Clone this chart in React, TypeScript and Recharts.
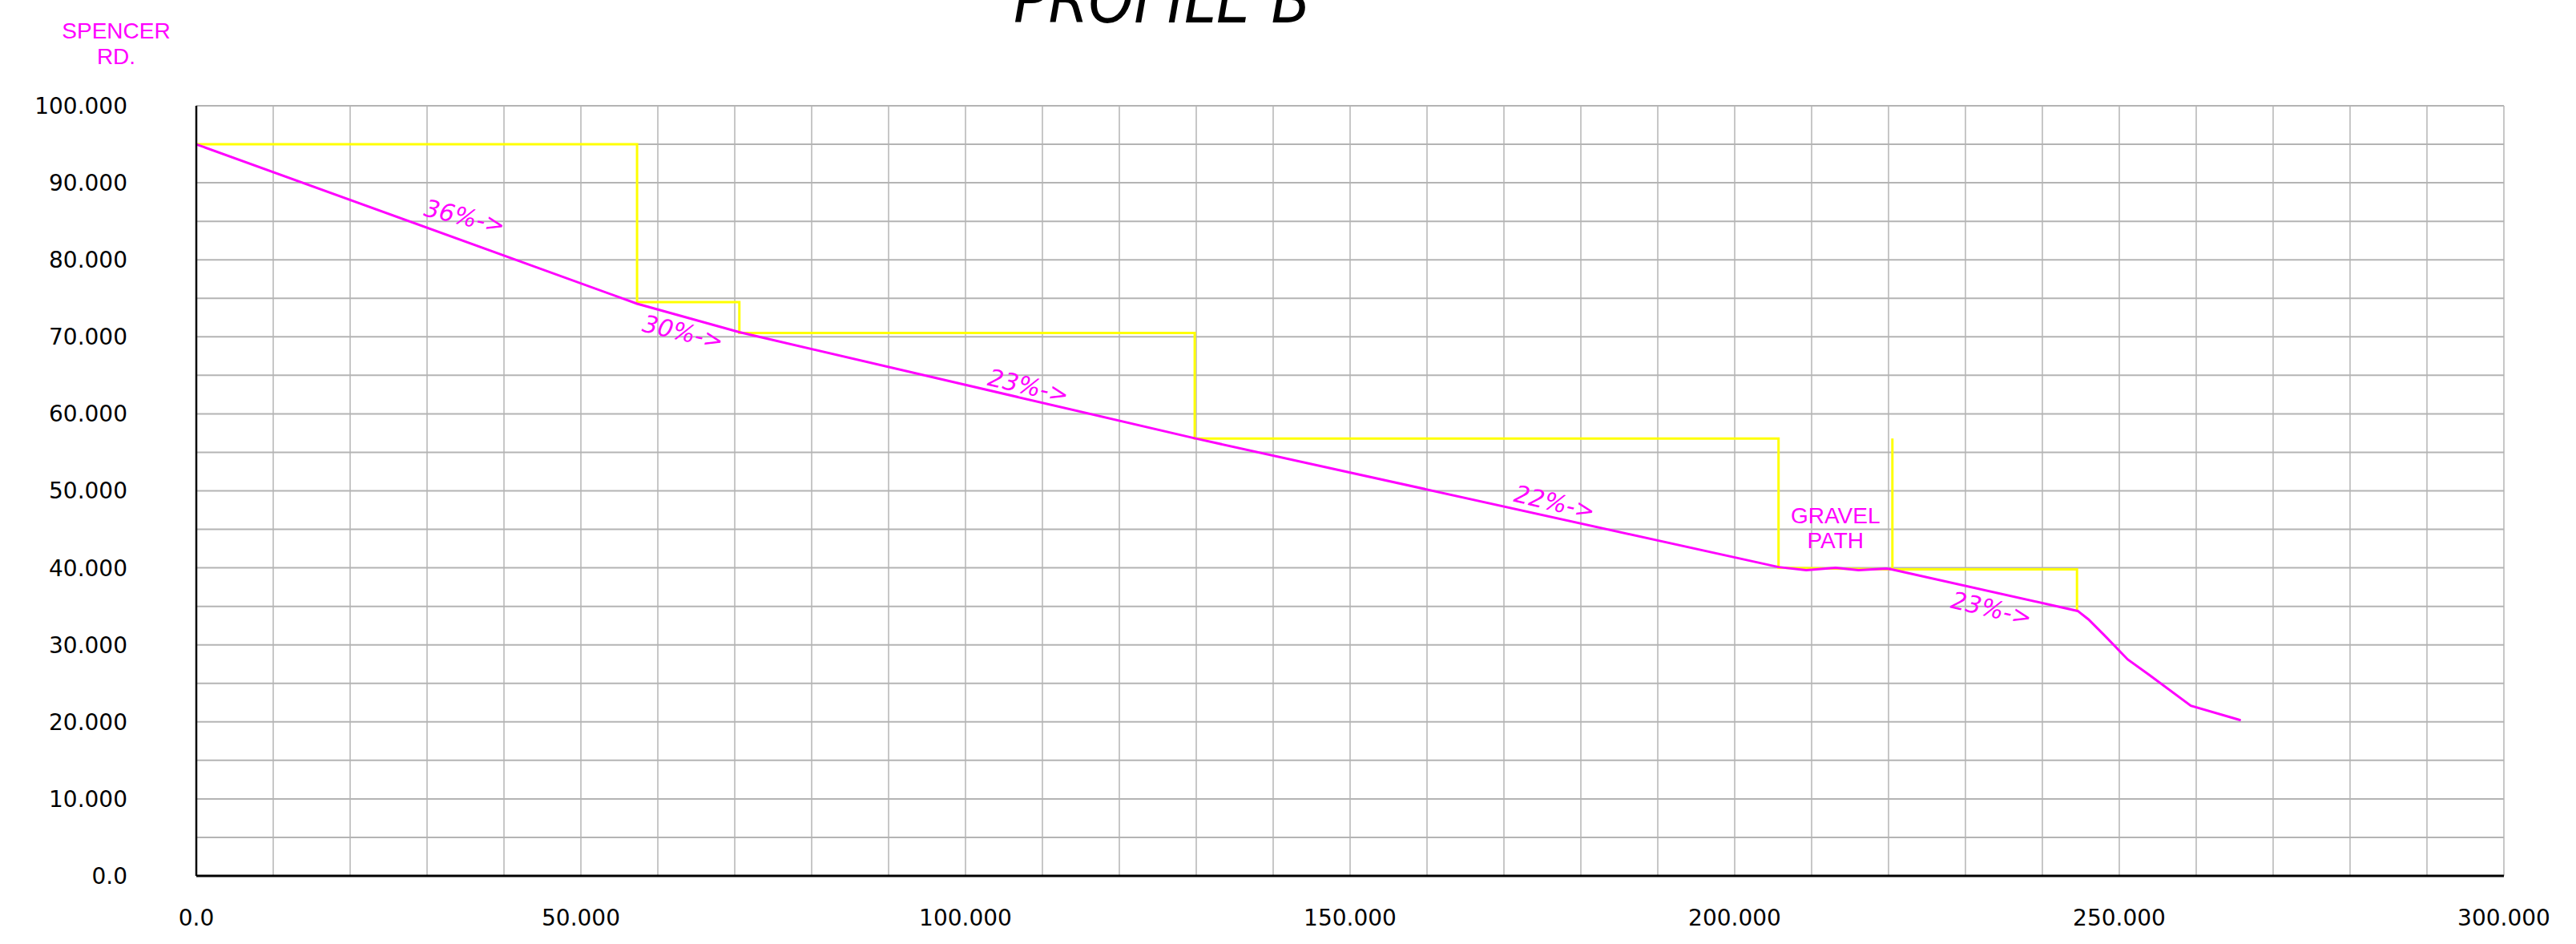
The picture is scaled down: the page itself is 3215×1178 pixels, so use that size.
import { CartesianGrid, Line, LineChart, ReferenceDot, XAxis, YAxis } from "recharts";

// existing ground profile (magenta)
const groundX = [0, 57.3, 70.6, 129.9, 205.7, 209.3, 213.1, 216.1, 219.7, 220.4, 244.6, 246.0, 248.1, 251.1, 253.9, 259.3, 265.8];
const groundY = [95.0, 74.3, 70.6, 56.8, 40.1, 39.7, 40.0, 39.7, 39.9, 39.8, 34.4, 33.3, 31.2, 28.1, 26.1, 22.1, 20.2];

// proposed steps (yellow)
const stepX = [0, 57.3, 57.3, 70.6, 70.6, 129.8, 129.8, 205.7, 205.7, 220.4, 244.5, 244.5];
const stepY = [95.0, 95.0, 74.5, 74.5, 70.5, 70.5, 56.8, 56.8, 40.0, 39.8, 39.8, 34.4];

// gravel path edge (yellow)
const edgeX = [220.5, 220.5];
const edgeY = [56.8, 39.8];

// slope notes
const slopeText = ["36%->", "30%->", "23%->", "22%->", "23%->"];
const slopeX = [34.9, 63.3, 108.2, 176.6, 233.4];
const slopeY = [85.6, 70.6, 63.6, 48.5, 34.7];

const noteText = ["GRAVEL", "PATH"];
const noteX = [213.1, 213.1];
const noteY = [46.8, 43.5];

const xTicks = [0, 50, 100, 150, 200, 250, 300];
const yTicks = [0, 10, 20, 30, 40, 50, 60, 70, 80, 90, 100];
const xGrid = Array.from({ length: 31 }, (_, i) => i * 10);
const yGrid = Array.from({ length: 21 }, (_, i) => i * 5);

const zip = (xs: number[], ys: number[]) => xs.map((x, i) => ({ x, y: ys[i] }));
const ground = zip(groundX, groundY);
const steps = zip(stepX, stepY);
const edge = zip(edgeX, edgeY);

const fmt = (v: number) => (v === 0 ? "0.0" : v.toFixed(3));

const MAGENTA = "#ff00ff";
const YELLOW = "#ffff00";
const GRID = "#b4b4b4";
const FONT = "'DejaVu Sans', sans-serif";

const App = () => {
  return (
    <div style={{ position: "absolute", left: 0, top: 0, width: 3215, height: 1178, background: "#fff" }}>
      <svg width={3215} height={1178} style={{ position: "absolute", left: 0, top: 0 }}>
        <text
          x={1265}
          y={28}
          fontFamily={FONT}
          fontSize={80}
          fontWeight={200}
          fontStyle="italic"
          textLength={371}
          lengthAdjust="spacingAndGlyphs"
          fill="#000"
        >
          PROFILE  B
        </text>
        <text x={145} y={48} textAnchor="middle" fontFamily="'Liberation Sans', sans-serif" fontSize={28} fill={MAGENTA}>
          SPENCER
        </text>
        <text x={145} y={80} textAnchor="middle" fontFamily="'Liberation Sans', sans-serif" fontSize={28} fill={MAGENTA}>
          RD.
        </text>
      </svg>
      <div style={{ position: "absolute", left: 0, top: 0 }}>
        <LineChart width={3215} height={1178} margin={{ top: 132, right: 90, bottom: 0, left: 0 }}>
          <CartesianGrid horizontal={false} verticalValues={xGrid} stroke={GRID} strokeWidth={1.5} />
          <CartesianGrid vertical={false} horizontalValues={yGrid} stroke={GRID} strokeWidth={2} />
          <XAxis
            dataKey="x"
            type="number"
            domain={[0, 300]}
            ticks={xTicks}
            tickFormatter={fmt}
            height={85}
            tickLine={false}
            tickSize={0}
            tickMargin={42}
            axisLine={{ stroke: "#000", strokeWidth: 3 }}
            tick={{ fill: "#000", fontSize: 28, fontFamily: FONT }}
          />
          <YAxis
            dataKey="y"
            type="number"
            domain={[0, 100]}
            ticks={yTicks}
            tickFormatter={fmt}
            width={245}
            tickLine={false}
            tickSize={0}
            tickMargin={86}
            axisLine={{ stroke: "#000", strokeWidth: 2.5 }}
            tick={{ fill: "#000", fontSize: 28, fontFamily: FONT }}
          />
          <Line data={steps} dataKey="y" type="linear" stroke={YELLOW} strokeWidth={3} dot={false} isAnimationActive={false} />
          <Line data={edge} dataKey="y" type="linear" stroke={YELLOW} strokeWidth={3} dot={false} isAnimationActive={false} />
          <Line data={ground} dataKey="y" type="linear" stroke={MAGENTA} strokeWidth={3} dot={false} isAnimationActive={false} />
          {slopeText.map((t, i) => (
            <ReferenceDot
              key={"s" + i}
              x={slopeX[i]}
              y={slopeY[i]}
              r={0}
              ifOverflow="visible"
              shape={(p: any) => (
                <text
                  x={p.cx}
                  y={p.cy}
                  textAnchor="middle"
                  dominantBaseline="central"
                  transform={`rotate(13 ${p.cx} ${p.cy})`}
                  fontFamily={FONT}
                  fontStyle="italic"
                  fontWeight={200}
                  fontSize={30}
                  fill={MAGENTA}
                >
                  {t}
                </text>
              )}
            />
          ))}
          {noteText.map((t, i) => (
            <ReferenceDot
              key={"n" + i}
              x={noteX[i]}
              y={noteY[i]}
              r={0}
              ifOverflow="visible"
              shape={(p: any) => (
                <text
                  x={p.cx}
                  y={p.cy}
                  textAnchor="middle"
                  dominantBaseline="central"
                  fontFamily="'Liberation Sans', sans-serif"
                  fontSize={28}
                  fill={MAGENTA}
                >
                  {t}
                </text>
              )}
            />
          ))}
        </LineChart>
      </div>
    </div>
  );
};

export default App;
